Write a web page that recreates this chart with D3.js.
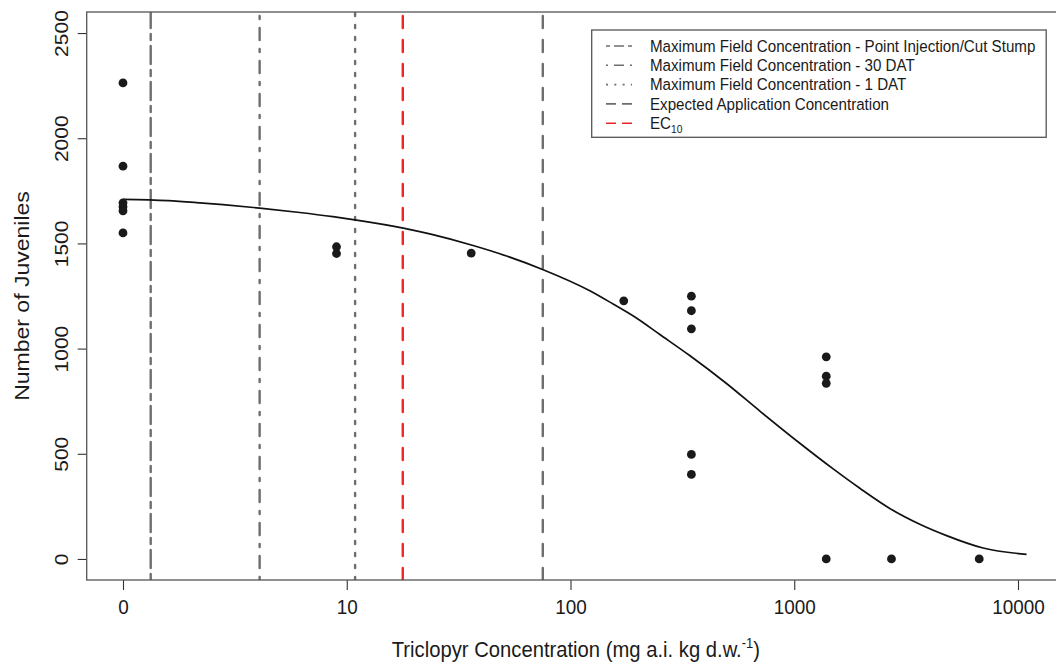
<!DOCTYPE html>
<html>
<head>
<meta charset="utf-8">
<script src="https://cdn.jsdelivr.net/npm/d3@7"></script>
<style>
  html, body { margin: 0; padding: 0; background: #fff; }
  svg { display: block; font-family: "Liberation Sans", Arial, sans-serif; }
</style>
</head>
<body>
<svg id="chart" width="1056" height="663"></svg>
<script>
// ---- data (control "0" is plotted at concentration 1 on the log axis) ----
const pointConc = [1, 1, 1, 1, 1, 1, 9, 9, 36, 173, 347, 347, 347, 347, 347, 1390, 1390, 1390, 1390, 2720, 6710];
const pointJuv  = [2263, 1867, 1693, 1674, 1655, 1550, 1484, 1452, 1454, 1227, 1249, 1180, 1094, 497, 402, 961, 869, 835, 0, 0, 0];

const curveConc = [1, 1.59, 2.13, 2.8, 4.08, 6.17, 8.68, 11.05, 17.9, 23.5, 36.7, 51.8, 75.5, 122, 155, 194, 250, 341, 498, 702, 1059, 1493, 1964, 2674, 3640, 4795, 6985, 10920];
const curveJuv  = [1709, 1703, 1694, 1684, 1668, 1647, 1627, 1611, 1573, 1545, 1490, 1440, 1375, 1275, 1212, 1150, 1068, 967, 834, 703, 550, 428, 336, 240, 165, 111, 52, 22];

const refNames  = ["Maximum Field Concentration - Point Injection/Cut Stump",
                   "Maximum Field Concentration - 30 DAT",
                   "Maximum Field Concentration - 1 DAT",
                   "Expected Application Concentration",
                   "EC10"];
const refConc   = [1.33, 4.08, 10.9, 75.2, 17.8];
const refTypes  = ["twodash", "dotdash", "dotted", "dashed", "dashed"];
const refColors = ["#6e6e6e", "#6e6e6e", "#6e6e6e", "#6e6e6e", "#f02424"];

const xTickValues = [1, 10, 100, 1000, 10000];
const xTickLabels = ["0", "10", "100", "1000", "10000"];
const yTickValues = [0, 500, 1000, 1500, 2000, 2500];

// ---- layout ----
const plot = { left: 86.7, right: 1067, top: 12, bottom: 580 };
const dashMain = { twodash: "6,6,18,6", dotdash: "3,9,12,9", dotted: "3,9", dashed: "12,12" };
const dashLegend = { twodash: "4,4,10,4", dotdash: "2,6,10,6", dotted: "2,6.3", dashed: "10,6" };

const svg = d3.select("#chart");

const x = d3.scaleLog()
  .domain([Math.pow(10, -0.1622), Math.pow(10, 4.219)])
  .range([plot.left, plot.right]);
const y = d3.scaleLinear()
  .domain([-100, 2600])
  .range([plot.bottom, plot.top]);

// clip
svg.append("defs").append("clipPath").attr("id", "clip")
  .append("rect")
  .attr("x", plot.left).attr("y", plot.top)
  .attr("width", plot.right - plot.left).attr("height", plot.bottom - plot.top);

// axes
const xAxis = d3.axisBottom(x)
  .tickValues(xTickValues)
  .tickFormat((d, i) => xTickLabels[i])
  .tickSize(10).tickSizeOuter(0);
const gx = svg.append("g").attr("transform", `translate(0,${plot.bottom})`).call(xAxis);
gx.select(".domain").remove();
gx.selectAll(".tick line").attr("stroke", "#333").attr("stroke-width", 1.1);
gx.selectAll(".tick text")
  .attr("font-size", 21).attr("fill", "#1a1a1a")
  .attr("dy", null).attr("y", 0)
  .attr("transform", "translate(0,34) scale(0.9,1)");

const yAxis = d3.axisLeft(y)
  .tickValues(yTickValues)
  .tickFormat(d3.format("d"))
  .tickSize(9).tickSizeOuter(0);
const gy = svg.append("g").attr("transform", `translate(${plot.left},0)`).call(yAxis);
gy.select(".domain").remove();
gy.selectAll(".tick line").attr("stroke", "#333").attr("stroke-width", 1.1);
gy.selectAll(".tick text")
  .attr("font-size", 21).attr("fill", "#1a1a1a")
  .attr("x", null).attr("dy", null)
  .attr("text-anchor", "middle")
  .attr("transform", "translate(-19,0) rotate(-90) scale(1,0.9)");

// reference vertical lines
const gRef = svg.append("g").attr("clip-path", "url(#clip)");
refConc.forEach((c, i) => {
  gRef.append("line")
    .attr("x1", x(c)).attr("x2", x(c))
    .attr("y1", plot.bottom).attr("y2", plot.top)
    .attr("stroke", refColors[i])
    .attr("stroke-width", 2.4)
    .attr("stroke-linecap", "round")
    .attr("stroke-dasharray", dashMain[refTypes[i]]);
});

// fitted curve
const line = d3.line()
  .x((d, i) => x(curveConc[i]))
  .y((d, i) => y(curveJuv[i]))
  .curve(d3.curveMonotoneX);
svg.append("path")
  .datum(curveJuv)
  .attr("d", line)
  .attr("fill", "none")
  .attr("stroke", "#111")
  .attr("stroke-width", 1.7)
  .attr("clip-path", "url(#clip)");

// points
svg.append("g").selectAll("circle")
  .data(pointJuv)
  .join("circle")
  .attr("cx", (d, i) => x(pointConc[i]))
  .attr("cy", d => y(d))
  .attr("r", 4.4)
  .attr("fill", "#1a1a1a");

// plot box
svg.append("rect")
  .attr("x", plot.left).attr("y", plot.top)
  .attr("width", plot.right - plot.left).attr("height", plot.bottom - plot.top)
  .attr("fill", "none").attr("stroke", "#555").attr("stroke-width", 1.3);

// axis titles
const xt = svg.append("text")
  .attr("transform", `translate(${(plot.left + plot.right) / 2 - 1},657) scale(0.92,1)`)
  .attr("text-anchor", "middle")
  .attr("font-size", 22).attr("fill", "#1a1a1a");
xt.append("tspan").text("Triclopyr Concentration (mg a.i. kg d.w.");
xt.append("tspan").attr("font-size", 14).attr("dy", -9).text("-1");
xt.append("tspan").attr("dy", 9).text(")");

svg.append("text")
  .attr("transform", `translate(29,${(plot.top + plot.bottom) / 2}) rotate(-90) scale(1,0.9)`)
  .attr("text-anchor", "middle")
  .attr("font-size", 23).attr("fill", "#1a1a1a")
  .text("Number of Juveniles");

// legend
const leg = { x: 591.7, y: 30, w: 454.5, h: 107.3, rowY0: 46, rowStep: 19.3, sx1: 606, sx2: 632, tx: 650 };
const gl = svg.append("g");
gl.append("rect")
  .attr("x", leg.x).attr("y", leg.y).attr("width", leg.w).attr("height", leg.h)
  .attr("fill", "#fff").attr("stroke", "#555").attr("stroke-width", 1.3);
refNames.forEach((name, i) => {
  const ry = leg.rowY0 + i * leg.rowStep;
  gl.append("line")
    .attr("x1", leg.sx1).attr("x2", leg.sx2).attr("y1", ry).attr("y2", ry)
    .attr("stroke", refColors[i]).attr("stroke-width", 1.6)
    .attr("stroke-dasharray", dashLegend[refTypes[i]]);
  const t = gl.append("text")
    .attr("transform", `translate(${leg.tx},${ry + 5.8}) scale(0.93,1)`)
    .attr("font-size", 16.3).attr("fill", "#1a1a1a");
  if (name === "EC10") {
    t.append("tspan").text("EC");
    t.append("tspan").attr("font-size", 11).attr("dy", 4).text("10");
  } else {
    t.text(name);
  }
});
</script>
</body>
</html>
